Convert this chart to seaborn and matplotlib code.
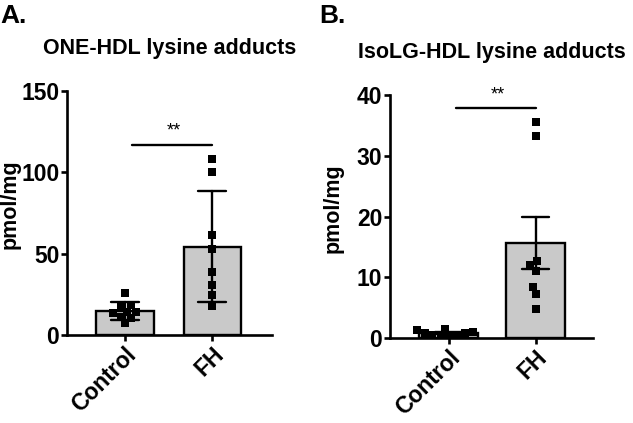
import numpy as np
import pandas as pd
import matplotlib
matplotlib.use("Agg")
import matplotlib.pyplot as plt
import seaborn as sns

# values (pmol/mg)
groups = ["Control", "FH"]
one_control = [26.0, 18.4, 17.4, 14.3, 14.3, 13.3, 11.3, 10.2, 7.2]
one_fh = [108.2, 100.0, 61.5, 52.9, 38.9, 30.7, 24.6, 17.8]
isolg_control = [1.6, 1.0, 0.8, 0.6, 0.5, 0.5, 0.6, 0.9, 1.3]
isolg_fh = [35.6, 33.3, 12.7, 12.05, 11.1, 8.5, 7.3, 4.8]

titles = ["ONE-HDL lysine adducts", "IsoLG-HDL lysine adducts"]
panel_letters = ["A.", "B."]
yticks_a = [0, 50, 100, 150]
yticks_b = [0, 10, 20, 30, 40]
bracket_y = [117, 37.8]


def to_long(control, fh):
    return pd.DataFrame({
        "group": [groups[0]] * len(control) + [groups[1]] * len(fh),
        "value": list(control) + list(fh),
    })


sns.set_style("ticks")
plt.rcParams["font.family"] = ["Liberation Sans", "DejaVu Sans"]
plt.rcParams["font.weight"] = "bold"
plt.rcParams["text.color"] = "black"
plt.rcParams["xtick.color"] = "black"
plt.rcParams["ytick.color"] = "black"
plt.rcParams["axes.edgecolor"] = "black"
plt.rcParams["axes.labelcolor"] = "black"

fig = plt.figure(figsize=(6.33, 4.23), dpi=100)
ax_a = fig.add_axes([0.1058, 0.2080, 0.3239, 0.5768])
ax_b = fig.add_axes([0.6161, 0.2002, 0.3207, 0.5752])

panels = [
    (ax_a, to_long(one_control, one_fh), "sd", yticks_a, (-0.663, 1.68), 0.66),
    (ax_b, to_long(isolg_control, isolg_fh), "se", yticks_b, (-0.678, 1.663), 0.68),
]

for i, (ax, df, err, yt, xl, bw) in enumerate(panels):
    sns.barplot(data=df, x="group", y="value", order=groups, ax=ax,
                color="#c9c9c9", edgecolor="black", linewidth=1.7,
                width=bw, errorbar=err, capsize=0.32, saturation=1,
                err_kws={"color": "black", "linewidth": 1.7})
    sns.swarmplot(data=df, x="group", y="value", order=groups, ax=ax,
                  color="black", marker="s", size=5.6, zorder=5)

    ax.set_xlim(*xl)
    ax.set_ylim(0, yt[-1])
    ax.set_yticks(yt)
    ax.set_xlabel("")
    ax.set_ylabel("pmol/mg", fontsize=15.5, fontweight="bold")
    ax.yaxis.set_label_coords(-0.228, 0.535)
    ax.set_title(titles[i], fontsize=15.5, fontweight="bold", pad=27)

    sns.despine(ax=ax)
    for side in ["left", "bottom"]:
        ax.spines[side].set_linewidth(1.9)
    ax.tick_params(axis="both", width=1.9, length=4.5, pad=1, labelsize=16.5)
    for lab in ax.get_xticklabels():
        lab.set_rotation(45)
        lab.set_ha("right")
        lab.set_rotation_mode("anchor")
        lab.set_fontweight("bold")
    for lab in ax.get_yticklabels():
        lab.set_fontweight("bold")

    # significance bar
    yb = bracket_y[i]
    ax.plot([0.08, 1.0], [yb, yb], color="black", linewidth=1.7, clip_on=False)
    ax.text(0.56, yb + yt[-1] * 0.02, "**", ha="center", va="bottom",
            fontsize=13, fontweight="normal")

fig.text(0.0, 0.99, panel_letters[0], fontsize=19, fontweight="bold", va="top")
fig.text(0.505, 0.99, panel_letters[1], fontsize=19, fontweight="bold", va="top")

fig.savefig("out.png", dpi=100)
